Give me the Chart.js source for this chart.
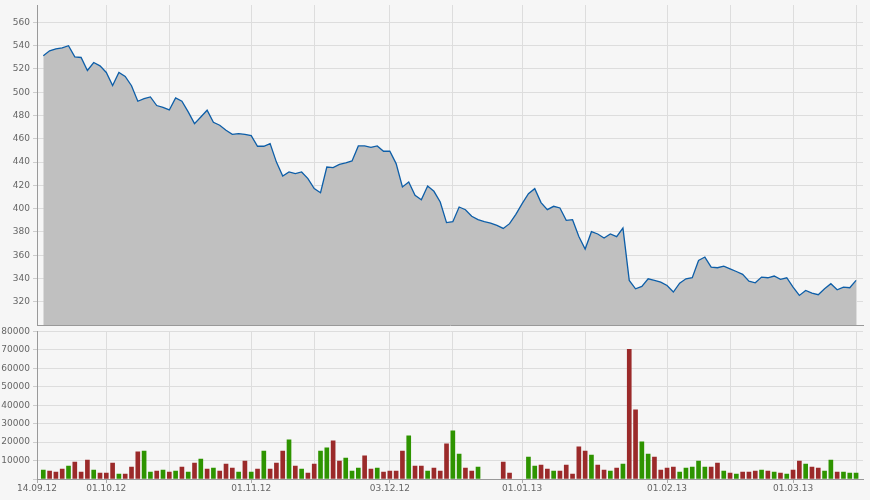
<!DOCTYPE html>
<html>
<head>
<meta charset="utf-8">
<script src="https://cdn.jsdelivr.net/npm/chart.js@4.4.1/dist/chart.umd.min.js"></script>
<style>
  body { margin: 0; background: #f6f6f6; }
  #wrap { position: relative; width: 870px; height: 500px; }
  canvas { position: absolute; left: 0; }
  #priceChart { top: 0; }
  #volumeChart { top: 326px; }
</style>
</head>
<body>
<div id="wrap">
  <canvas id="priceChart" width="870" height="326"></canvas>
  <canvas id="volumeChart" width="870" height="174"></canvas>
</div>
<script>
// one slot per weekday, 14.09.12 (slot 0) .. 15.03.13 (slot 130)
const tickLabels = ['14.09.12', '01.10.12', '01.11.12', '03.12.12', '01.01.13', '01.02.13', '01.03.13'];
const tickSlots = [0, 11, 34, 56, 77, 100, 120];
const gridSlots = [0, 11, 21, 34, 44, 56, 66, 77, 87, 100, 110, 120, 130];

const priceTicks = [320, 340, 360, 380, 400, 420, 440, 460, 480, 500, 520, 540, 560];
const volumeTicks = [0, 10000, 20000, 30000, 40000, 50000, 60000, 70000, 80000];

const closes = [
  null, 531.3, 535.6, 537.3, 538.2, 540, 530.4, 529.9, 518.7, 525.6,
  522.7, 517, 505.8, 517, 513.6, 505.6, 492.3, 494.6, 496, 488.6,
  487.1, 484.8, 495.1, 492.3, 483.1, 473.1, 478.8, 484.6, 474.2, 471.7,
  467.4, 463.9, 464.5, 463.9, 462.8, 453.6, 453.6, 455.9, 440, 428,
  431.5, 430.1, 431.5, 425.8, 417.2, 413.7, 435.8, 435.3, 438.1, 439.3,
  441, 453.9, 453.9, 452.7, 453.9, 449.3, 449.3, 438.7, 418.6, 422.9,
  411.4, 407.7, 419.5, 414.9, 405.7, 388, 388.8, 401.4, 399.1, 393.4,
  390.5, 388.8, 387.6, 385.6, 383, 387.1, 395.1, 404.3, 412.9, 417.2,
  405.2, 399.1, 402, 400.6, 390, 390.5, 376, 365.3, 380.2, 378.2,
  374.7, 378.2, 375.9, 383.3, 338.3, 331.1, 333.1, 339.7, 338.3, 336.9,
  334, 328.3, 336, 339.7, 340.6, 355.5, 358.4, 349.8, 349.2, 350.6,
  348.3, 346, 343.5, 337.7, 336.3, 341.2, 340.6, 342.1, 339.2, 340.6,
  332.6, 325.4, 329.7, 327.4, 326, 331.1, 335.5, 330.3, 332.6, 332,
  338.3
];

const volumes = [
  null, 4890, 4350, 3800, 5430, 7060, 9240, 3800, 10320, 4890,
  3260, 3260, 8690, 2720, 2720, 6520, 14670, 15210, 3800, 4350,
  4890, 3800, 4350, 6520, 3800, 8690, 10870, 5430, 5980, 4350,
  8150, 5980, 3800, 9780, 3800, 5430, 15210, 5430, 8690, 15210,
  21190, 7060, 5430, 3260, 8150, 15210, 16840, 20650, 9780, 11410,
  4350, 5980, 12500, 5430, 5980, 3800, 4350, 4350, 15210, 23360,
  7060, 7060, 4350, 5980, 4350, 19020, 26080, 13580, 5980, 4350,
  6520, null, null, null, 9240, 3260, null, null, 11950, 7060,
  7610, 5430, 4350, 4350, 7610, 2720, 17390, 15210, 13040, 7610,
  4890, 4350, 5980, 8150, 70300, 37490, 20100, 13580, 11950, 4890,
  5980, 6520, 3800, 5980, 6520, 9780, 6520, 6520, 8690, 4350,
  3260, 2720, 3800, 3800, 4350, 4890, 4350, 3800, 3260, 2720,
  4890, 9780, 8150, 6520, 5980, 4350, 10320, 3800, 3800, 3260,
  3260
];

// u = up day (green), d = down day (red)
const volumeSide = [
  '', 'u', 'd', 'd', 'd', 'u', 'd', 'd', 'd', 'u',
  'd', 'd', 'd', 'u', 'd', 'd', 'd', 'u', 'u', 'd',
  'u', 'd', 'u', 'd', 'u', 'd', 'u', 'd', 'u', 'd',
  'd', 'd', 'u', 'd', 'u', 'd', 'u', 'd', 'd', 'd',
  'u', 'd', 'u', 'd', 'd', 'u', 'u', 'd', 'd', 'u',
  'u', 'u', 'd', 'd', 'u', 'd', 'd', 'd', 'd', 'u',
  'd', 'd', 'u', 'd', 'd', 'd', 'u', 'u', 'd', 'd',
  'u', '', '', '', 'd', 'd', '', '', 'u', 'u',
  'd', 'd', 'u', 'd', 'd', 'd', 'd', 'd', 'u', 'd',
  'd', 'u', 'd', 'u', 'd', 'd', 'u', 'u', 'd', 'd',
  'd', 'd', 'u', 'u', 'u', 'u', 'u', 'd', 'd', 'u',
  'd', 'u', 'd', 'd', 'd', 'u', 'd', 'u', 'd', 'u',
  'd', 'd', 'u', 'd', 'd', 'u', 'u', 'd', 'u', 'u',
  'u'
];

Chart.defaults.font.family = 'DejaVu Sans';
Chart.defaults.font.size = 9;
Chart.defaults.color = '#666';
Chart.defaults.animation = false;

const GRID = '#dddddd';
const AXIS = '#999999';
const X_MAX = 131.1;

const pricePoints = closes.map((v, i) => ({ x: i, y: v })).filter(p => p.y !== null);
const volumePoints = volumes.map((v, i) => ({ x: i, y: v })).filter(p => p.y !== null);
const volumeColors = volumePoints.map(p => volumeSide[p.x] === 'u' ? '#2e9400' : '#9b2a2a');

const labelFor = (value) => {
  const k = tickSlots.indexOf(value);
  return k >= 0 ? tickLabels[k] : '';
};

// keep the plot box where the original has it, whatever the labels want
const noPad = s => { s.paddingTop = 0; s.paddingBottom = 0; s.paddingLeft = 0; s.paddingRight = 0; };

const priceChart = new Chart(document.getElementById('priceChart'), {
  type: 'line',
  data: {
    datasets: [{
      data: pricePoints,
      borderColor: '#0d5ea8',
      borderWidth: 1.3,
      backgroundColor: '#c0c0c0',
      fill: 'start',
      pointRadius: 0,
      tension: 0
    }]
  },
  options: {
    responsive: false,
    devicePixelRatio: 1,
    layout: { padding: { top: 5, right: 7, bottom: 1, left: 0 } },
    plugins: { legend: { display: false }, tooltip: { enabled: false } },
    scales: {
      x: {
        type: 'linear',
        offset: false,
        min: 0,
        max: X_MAX,
        afterBuildTicks: s => { s.ticks = gridSlots.map(v => ({ value: v })); },
        afterFit: s => { s.height = 0; noPad(s); },
        ticks: { display: false },
        grid: { color: GRID, drawTicks: false, offset: false },
        border: { color: AXIS, width: 1 }
      },
      y: {
        min: 300,
        max: 575,
        afterBuildTicks: s => { s.ticks = priceTicks.map(v => ({ value: v })); },
        afterFit: s => { s.width = 37; noPad(s); },
        ticks: { padding: 3 },
        grid: { color: GRID, tickLength: 4, tickColor: '#cccccc' },
        border: { color: AXIS, width: 1 }
      }
    }
  }
});

const volumeChart = new Chart(document.getElementById('volumeChart'), {
  type: 'bar',
  data: {
    datasets: [{
      data: volumePoints,
      backgroundColor: volumeColors,
      barThickness: 4,
      borderWidth: 0
    }]
  },
  options: {
    responsive: false,
    devicePixelRatio: 1,
    layout: { padding: { top: 5.5, right: 7, bottom: 0, left: 0 } },
    plugins: { legend: { display: false }, tooltip: { enabled: false } },
    scales: {
      x: {
        type: 'linear',
        offset: false,
        min: 0,
        max: X_MAX,
        afterBuildTicks: s => { s.ticks = gridSlots.map(v => ({ value: v })); },
        afterFit: s => { s.height = 21; noPad(s); },
        ticks: {
          autoSkip: false,
          maxRotation: 0,
          padding: 0,
          callback: v => labelFor(v)
        },
        grid: {
          offset: false,
          color: GRID,
          tickLength: 4,
          tickColor: ctx => (ctx.tick && tickSlots.includes(ctx.tick.value)) ? '#aaaaaa' : 'rgba(0,0,0,0)'
        },
        border: { color: AXIS, width: 1 }
      },
      y: {
        min: 0,
        max: 80000,
        afterBuildTicks: s => { s.ticks = volumeTicks.map(v => ({ value: v })); },
        afterFit: s => { s.width = 37; noPad(s); },
        ticks: { padding: 3, callback: v => v === 0 ? '' : String(v) },
        grid: { color: GRID, tickLength: 4, tickColor: '#cccccc' },
        border: { color: AXIS, width: 1 }
      }
    }
  }
});
</script>
</body>
</html>
